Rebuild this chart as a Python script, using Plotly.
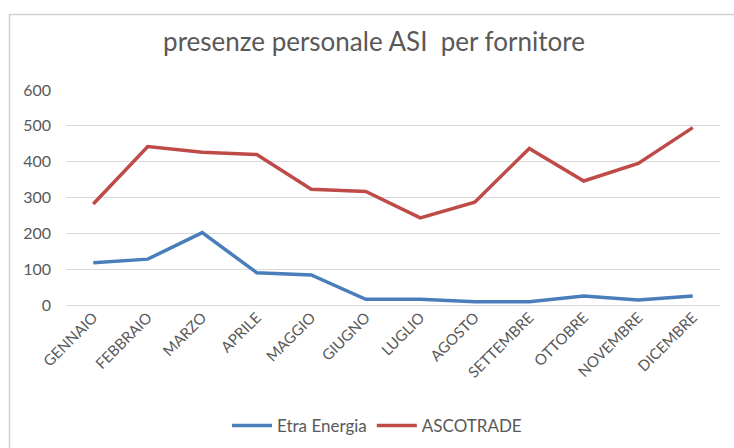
import plotly.graph_objects as go

mesi = ["GENNAIO", "FEBBRAIO", "MARZO", "APRILE", "MAGGIO", "GIUGNO",
        "LUGLIO", "AGOSTO", "SETTEMBRE", "OTTOBRE", "NOVEMBRE", "DICEMBRE"]
etra_energia = [118, 128, 202, 90, 84, 16, 16, 9, 9, 25, 14, 25]
ascotrade = [282, 442, 426, 420, 323, 317, 243, 287, 437, 346, 395, 495]
y_ticks = [0, 100, 200, 300, 400, 500, 600]

FONT = "Lato"
GREY = "#595959"

fig = go.Figure()
fig.add_trace(go.Scatter(x=mesi, y=etra_energia, name="Etra Energia", mode="lines",
                         line=dict(color="#4A7EBB", width=3.5)))
fig.add_trace(go.Scatter(x=mesi, y=ascotrade, name="ASCOTRADE", mode="lines",
                         line=dict(color="#BE4B48", width=3.5)))

W, H = 734, 448
L, R, T, B = 66, 14, 90, 143
pw, ph = W - L - R, H - T - B


def px_x(x):
    return (x - L) / pw


def px_y(y):
    return (H - B - y) / ph


# outer chart border: top and left edges visible in the frame
fig.add_shape(type="line", xref="paper", yref="paper",
              x0=px_x(9), x1=px_x(740), y0=px_y(14.5), y1=px_y(14.5),
              line=dict(color="#D0D0D0", width=1.5))
fig.add_shape(type="line", xref="paper", yref="paper",
              x0=px_x(9.5), x1=px_x(9.5), y0=px_y(14), y1=px_y(460),
              line=dict(color="#D0D0D0", width=1.5))

fig.update_layout(
    width=W, height=H,
    margin=dict(l=L, r=R, t=T, b=B, autoexpand=False),
    paper_bgcolor="white", plot_bgcolor="white",
    title=dict(text="presenze personale ASI  per fornitore", x=374 / W, xref="container",
               xanchor="center", y=1 - 42 / H, yanchor="middle",
               font=dict(family=FONT, size=26, color=GREY)),
    font=dict(family=FONT, color=GREY, size=16),
    showlegend=True,
    legend=dict(orientation="h", x=px_x(377), xanchor="center", y=px_y(426), yanchor="middle",
                font=dict(family=FONT, size=17, color=GREY), itemwidth=40,
                bgcolor="rgba(0,0,0,0)"),
    xaxis=dict(type="category", tickangle=-45, showgrid=False, showline=False,
               ticks="", tickfont=dict(family=FONT, size=15, color=GREY),
               range=[-0.5, 11.5], automargin=False),
    yaxis=dict(range=[0, 600], tickvals=y_ticks, showgrid=True, gridcolor="#D9D9D9",
               gridwidth=1, zeroline=True, zerolinecolor="#D9D9D9", zerolinewidth=1,
               showline=False, ticks="", ticklabelstandoff=14, automargin=False,
               tickfont=dict(family=FONT, size=16, color=GREY)),
)

fig.write_html("out.html", config={"displayModeBar": False},
               post_script="document.body.style.margin='0';document.body.style.overflow='hidden';")
